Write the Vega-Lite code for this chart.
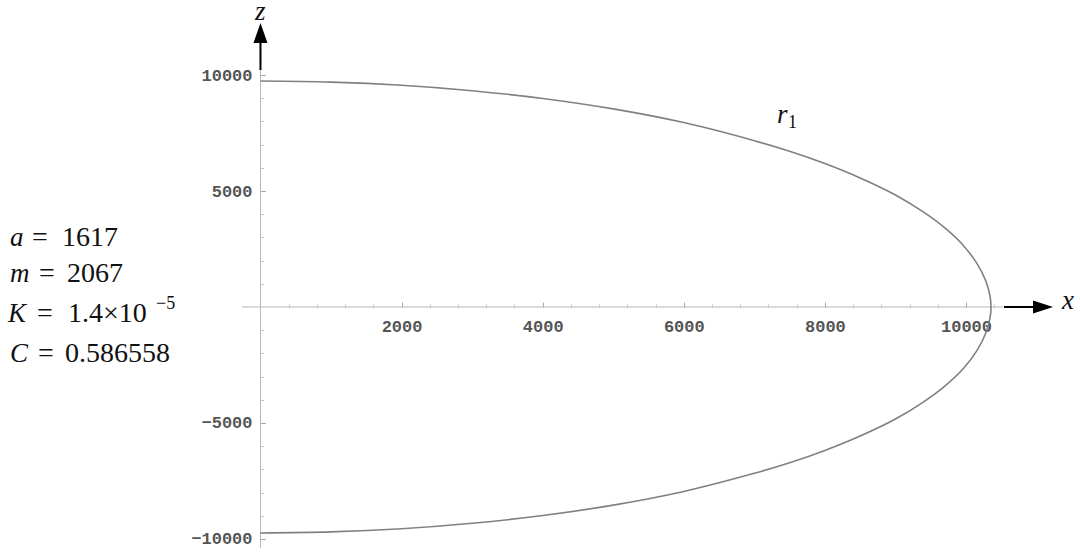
{
  "$schema": "https://vega.github.io/schema/vega-lite/v6.json",
  "width": 1080,
  "height": 556,
  "autosize": {"type": "none"},
  "padding": 0,
  "background": "white",
  "config": {"view": {"stroke": null}},
  "datasets": {
    "curve": [
      {"i": 0, "x": 0, "z": 9740}, {"i": 1, "x": 1000, "z": 9694}, {"i": 2, "x": 2000, "z": 9557},
      {"i": 3, "x": 3000, "z": 9322}, {"i": 4, "x": 4000, "z": 8990}, {"i": 5, "x": 5000, "z": 8540},
      {"i": 6, "x": 6000, "z": 7950}, {"i": 7, "x": 7000, "z": 7170}, {"i": 8, "x": 7500, "z": 6716},
      {"i": 9, "x": 8000, "z": 6184}, {"i": 10, "x": 8500, "z": 5563}, {"i": 11, "x": 9000, "z": 4830},
      {"i": 12, "x": 9400, "z": 4086}, {"i": 13, "x": 9700, "z": 3409}, {"i": 14, "x": 9950, "z": 2697},
      {"i": 15, "x": 10150, "z": 1900}, {"i": 16, "x": 10280, "z": 1130}, {"i": 17, "x": 10340, "z": 480},
      {"i": 18, "x": 10355, "z": 0},
      {"i": 19, "x": 10340, "z": -480}, {"i": 20, "x": 10280, "z": -1130}, {"i": 21, "x": 10150, "z": -1900},
      {"i": 22, "x": 9950, "z": -2697}, {"i": 23, "x": 9700, "z": -3409}, {"i": 24, "x": 9400, "z": -4086},
      {"i": 25, "x": 9000, "z": -4830}, {"i": 26, "x": 8500, "z": -5563}, {"i": 27, "x": 8000, "z": -6184},
      {"i": 28, "x": 7500, "z": -6716}, {"i": 29, "x": 7000, "z": -7170}, {"i": 30, "x": 6000, "z": -7950},
      {"i": 31, "x": 5000, "z": -8540}, {"i": 32, "x": 4000, "z": -8990}, {"i": 33, "x": 3000, "z": -9322},
      {"i": 34, "x": 2000, "z": -9557}, {"i": 35, "x": 1000, "z": -9694}, {"i": 36, "x": 0, "z": -9740}
    ],
    "axislines": [
      {"x": -262, "x2": 10525, "z": 0, "z2": 0},
      {"x": 0, "x2": 0, "z": -10388, "z2": 10216}
    ],
    "shafts": [
      {"x": 0, "x2": 0, "z": 10216, "z2": 11509},
      {"x": 10539, "x2": 10993, "z": 0, "z2": 0}
    ],
    "heads": [
      {"x": 0, "z": 11810, "head": "up"},
      {"x": 11092, "z": 0, "head": "right"}
    ],
    "texts": [
      {"kind": "italic", "t": "a", "x": -3551, "z": 2629},
      {"kind": "italic", "t": "m", "x": -3551, "z": 1078},
      {"kind": "italic", "t": "K", "x": -3579, "z": -647},
      {"kind": "italic", "t": "C", "x": -3551, "z": -2371},
      {"kind": "italic", "t": "r", "x": 7321, "z": 7931},
      {"kind": "italic", "t": "z", "x": -78, "z": 12370},
      {"kind": "italic", "t": "x", "x": 11361, "z": -86},
      {"kind": "regular", "t": "=", "x": -3239, "z": 2629},
      {"kind": "regular", "t": "=", "x": -3140, "z": 1078},
      {"kind": "regular", "t": "=", "x": -3168, "z": -647},
      {"kind": "regular", "t": "=", "x": -3154, "z": -2371},
      {"kind": "regular", "t": "1617", "x": -2814, "z": 2629},
      {"kind": "regular", "t": "2067", "x": -2743, "z": 1078},
      {"kind": "regular", "t": "1.4×10", "x": -2729, "z": -647},
      {"kind": "regular", "t": "0.586558", "x": -2771, "z": -2371},
      {"kind": "small", "t": "−5", "x": -1481, "z": -86},
      {"kind": "small", "t": "1", "x": 7477, "z": 7716}
    ]
  },
  "encoding": {
    "x": {"field": "x", "type": "quantitative", "scale": {"domain": [-3692, 11616], "nice": false, "zero": false}, "axis": null},
    "y": {"field": "z", "type": "quantitative", "scale": {"domain": [-10733, 13233], "nice": false, "zero": false}, "axis": null}
  },
  "layer": [
    {
      "data": {"name": "axislines"},
      "mark": {"type": "rule", "color": "#b8b8b8", "strokeWidth": 1},
      "encoding": {
        "x": {"field": "x", "type": "quantitative", "scale": {"domain": [-3692, 11616], "nice": false, "zero": false},
          "axis": {"orient": "bottom", "offset": -249, "values": [400, 800, 1200, 1600, 2400, 2800, 3200, 3600, 4400, 4800, 5200, 5600, 6400, 6800, 7200, 7600, 8400, 8800, 9200, 9600, 10400],
            "domain": false, "grid": false, "labels": false, "ticks": true, "tickSize": -3, "tickColor": "#c4c4c4", "title": null}},
        "x2": {"field": "x2"},
        "y": {"field": "z", "type": "quantitative", "scale": {"domain": [-10733, 13233], "nice": false, "zero": false},
          "axis": {"orient": "left", "offset": -260.5, "values": [-9000, -8000, -7000, -6000, -4000, -3000, -2000, -1000, 1000, 2000, 3000, 4000, 6000, 7000, 8000, 9000],
            "domain": false, "grid": false, "labels": false, "ticks": true, "tickSize": -3, "tickColor": "#c4c4c4", "title": null}},
        "y2": {"field": "z2"}
      }
    },
    {
      "data": {"name": "curve"},
      "mark": {"type": "line", "color": "#808080", "strokeWidth": 1.6, "interpolate": "catmull-rom"},
      "encoding": {
        "x": {"field": "x", "type": "quantitative", "scale": {"domain": [-3692, 11616], "nice": false, "zero": false},
          "axis": {"orient": "bottom", "offset": -249, "values": [2000, 4000, 6000, 8000, 10000], "format": "d",
            "domain": false, "grid": false, "ticks": true, "tickSize": -5, "tickColor": "#a8a8a8", "title": null,
            "labelFont": "Liberation Mono", "labelFontSize": 17, "labelFontWeight": "bold", "labelColor": "#555555",
            "labelPadding": 16, "labelFlush": false, "labelOverlap": false}},
        "y": {"field": "z", "type": "quantitative", "scale": {"domain": [-10733, 13233], "nice": false, "zero": false},
          "axis": {"orient": "left", "offset": -260.5, "values": [-10000, -5000, 5000, 10000], "format": "d",
            "domain": false, "grid": false, "ticks": true, "tickSize": -5, "tickColor": "#a8a8a8", "title": null,
            "labelFont": "Liberation Mono", "labelFontSize": 17, "labelFontWeight": "bold", "labelColor": "#555555",
            "labelPadding": 13.5, "labelFlush": false, "labelOverlap": false}},
        "order": {"field": "i", "type": "quantitative"}
      }
    },
    {
      "data": {"name": "shafts"},
      "mark": {"type": "rule", "color": "#000000", "strokeWidth": 2},
      "encoding": {"x2": {"field": "x2"}, "y2": {"field": "z2"}}
    },
    {
      "data": {"name": "heads"},
      "mark": {"type": "point", "filled": true, "color": "#000000", "opacity": 1, "size": 400, "strokeWidth": 0},
      "encoding": {
        "shape": {"field": "head", "type": "nominal", "scale": {"domain": ["up", "right"], "range": ["M0,-1L-0.7,1L0.7,1Z", "M1,0L-1,-0.65L-1,0.65Z"]}, "legend": null}
      }
    },
    {
      "data": {"name": "texts"},
      "transform": [{"filter": "datum.kind === 'italic'"}],
      "mark": {"type": "text", "font": "Liberation Serif", "fontStyle": "italic", "fontSize": 27, "align": "left", "baseline": "alphabetic", "color": "#111111"},
      "encoding": {"text": {"field": "t"}}
    },
    {
      "data": {"name": "texts"},
      "transform": [{"filter": "datum.kind === 'regular'"}],
      "mark": {"type": "text", "font": "Liberation Serif", "fontSize": 28, "align": "left", "baseline": "alphabetic", "color": "#111111"},
      "encoding": {"text": {"field": "t"}}
    },
    {
      "data": {"name": "texts"},
      "transform": [{"filter": "datum.kind === 'small'"}],
      "mark": {"type": "text", "font": "Liberation Serif", "fontSize": 18, "align": "left", "baseline": "alphabetic", "color": "#111111"},
      "encoding": {"text": {"field": "t"}}
    }
  ],
  "resolve": {"axis": {"x": "independent", "y": "independent"}}
}
